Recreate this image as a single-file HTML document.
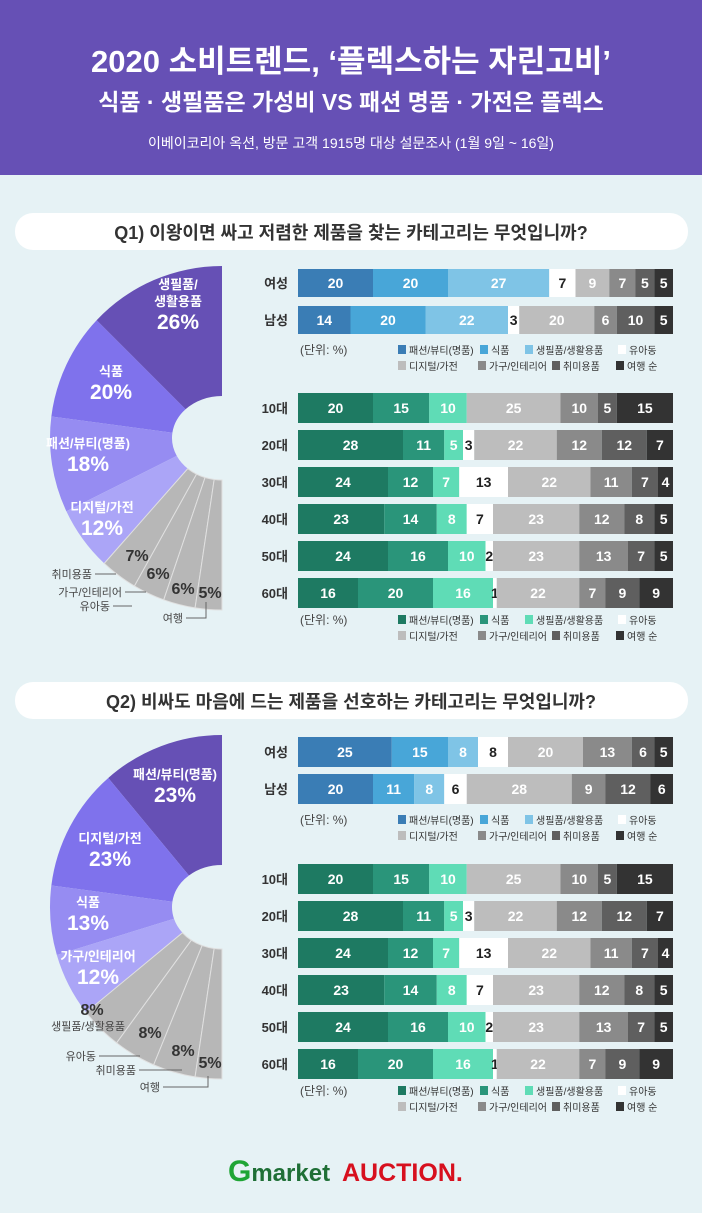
<!DOCTYPE html>
<html><head><meta charset="utf-8">
<style>
html,body{margin:0;padding:0;background:#e6f2f5;}
body{width:702px;height:1208px;overflow:hidden;font-family:"Liberation Sans","Noto Sans CJK KR",sans-serif;}
svg text{font-family:"Liberation Sans","Noto Sans CJK KR",sans-serif;}
</style></head>
<body>
<svg id="page" width="702" height="1208" viewBox="0 0 702 1208" xmlns="http://www.w3.org/2000/svg">
<rect x="0" y="0" width="702" height="1208" fill="#e6f2f5"/>
<g>
<rect x="0" y="0" width="702" height="175" fill="#6650b5"/>
<text x="351" y="72" text-anchor="middle" fill="#fff" font-size="31" font-weight="bold">2020 소비트렌드, ‘플렉스하는 자린고비’</text>
<text x="351" y="110" text-anchor="middle" fill="#fff" font-size="23" font-weight="bold">식품 · 생필품은 가성비 VS 패션 명품 · 가전은 플렉스</text>
<text x="351" y="148" text-anchor="middle" fill="#fff" font-size="14">이베이코리아 옥션, 방문 고객 1915명 대상 설문조사 (1월 9일 ~ 16일)</text>
</g>
<g>
<rect x="15" y="213" width="673" height="37" rx="18" fill="#fff"/>
<text x="351" y="239" text-anchor="middle" fill="#333" font-size="18" font-weight="bold">Q1) 이왕이면 싸고 저렴한 제품을 찾는 카테고리는 무엇입니까?</text>
</g>
<g>
<rect x="15" y="682" width="673" height="37" rx="18" fill="#fff"/>
<text x="351" y="708" text-anchor="middle" fill="#333" font-size="18" font-weight="bold">Q2) 비싸도 마음에 드는 제품을 선호하는 카테고리는 무엇입니까?</text>
</g>
<g id="charts"></g>
<g>
<text x="228" y="1181" fill="#1fa535" font-size="30" font-weight="bold">G<tspan fill="#1f6f36" font-size="24">market</tspan></text>
<text x="342" y="1181" fill="#d7101e" font-size="25" font-weight="bold">AUCTION.</text>
</g>
</svg>
<script>
// ---- data ----
const q1PieCats = ['생필품/생활용품','식품','패션/뷰티(명품)','디지털/가전','취미용품','가구/인테리어','유아동','여행'];
const q1PieVals = [26,20,18,12,7,6,6,5];
const q2PieCats = ['패션/뷰티(명품)','디지털/가전','식품','가구/인테리어','생필품/생활용품','유아동','취미용품','여행'];
const q2PieVals = [23,23,13,12,8,8,8,5];
const genderRows = ['여성','남성'];
const ageRows = ['10대','20대','30대','40대','50대','60대'];
const q1Gender = [[20,20,27,7,9,7,5,5],[14,20,22,3,20,6,10,5]];
const q2Gender = [[25,15,8,8,20,13,6,5],[20,11,8,6,28,9,12,6]];
const q1Age = [[20,15,10,0,25,10,5,15],[28,11,5,3,22,12,12,7],[24,12,7,13,22,11,7,4],[23,14,8,7,23,12,8,5],[24,16,10,2,23,13,7,5],[16,20,16,1,22,7,9,9]];
const q2Age = [[20,15,10,0,25,10,5,15],[28,11,5,3,22,12,12,7],[24,12,7,13,22,11,7,4],[23,14,8,7,23,12,8,5],[24,16,10,2,23,13,7,5],[16,20,16,1,22,7,9,9]];
const legendCats = ['패션/뷰티(명품)','식품','생필품/생활용품','유아동','디지털/가전','가구/인테리어','취미용품','여행 순'];

const NS='http://www.w3.org/2000/svg';
const root=document.getElementById('charts');
function mk(tag,attrs,parent){const e=document.createElementNS(NS,tag);for(const k in attrs)e.setAttribute(k,attrs[k]);(parent||root).appendChild(e);return e;}
function txt(x,y,s,size,fill,anchor,weight,parent){const t=mk('text',{x:x,y:y,'font-size':size,fill:fill,'text-anchor':anchor||'middle','font-weight':weight||'bold'},parent);t.textContent=s;return t;}

const blueCols=['#3a7db5','#48a6d8','#7fc4e6','#ffffff','#bdbdbd','#8a8a8a','#5f5f5f','#333333'];
const greenCols=['#1e7a62','#2a957a','#5fdcb6','#ffffff','#bdbdbd','#8a8a8a','#5f5f5f','#333333'];

const X0=298,X1=673;
function xScale(v,total){return (v/total)*(X1-X0);}
function barRow(vals,label,y,h,cols,g){
  txt(X0-10,y+h/2+5,label,13,'#333','end','bold',g);
  const total=vals.reduce((a,b)=>a+b,0);
  let x=X0;
  vals.forEach((v,i)=>{
    if(v<=0)return;
    const w=xScale(v,total);
    const r=mk('rect',{x:x,y:y,width:w,height:h,fill:cols[i]},g);
    
    
    txt(x+w/2,y+h/2+5,String(v),14,i===3?'#222':'#fff','middle','bold',g);
    x+=w;
  });
}
function legend(y,cols,g){
  txt(300,y+4,'(단위: %)',12,'#444','start','normal',g);
  const row1x=[398,480,525,618], row2x=[398,478,552,616];
  for(let i=0;i<8;i++){
    const rx=i<4?row1x[i]:row2x[i-4], ry=i<4?y:y+16;
    const s=mk('rect',{x:rx,y:ry-5,width:8,height:9,fill:cols[i]},g);
    
    
    txt(rx+11,ry+4,legendCats[i],10,'#333','start','normal',g);
  }
}
function barBlock(data,rows,y0,step,h,cols,legY,name){
  const g=mk('g',{});
  
  
  data.forEach((vals,i)=>barRow(vals,rows[i],y0+i*step,h,cols,g));
  legend(legY,cols,g);
}
barBlock(q1Gender,genderRows,269,37,28,blueCols,350,'q1-gender-bars');
barBlock(q1Age,ageRows,393,37,30,greenCols,620,'q1-age-bars');
barBlock(q2Gender,genderRows,737,37,30,blueCols,820,'q2-gender-bars');
barBlock(q2Age,ageRows,864,37,30,greenCols,1091,'q2-age-bars');

// ---- half donut ----
function pt(cx,cy,rx,ry,th){return [cx-rx*Math.sin(th),cy-ry*Math.cos(th)];}
function pie(cats,vals,cy,cols,name,insideN,inPos,pctPos,outLabels){
  const g=mk('g',{});
  
  
  const cx=222,rx=172,ry=172,irx=50,iry=42;
  const total=vals.reduce((a,b)=>a+b,0);
  let a=0;
  vals.forEach((v,i)=>{
    const a0=a/total*Math.PI, a1=(a+v)/total*Math.PI; a+=v;
    const p0=pt(cx,cy,rx,ry,a0),p1=pt(cx,cy,rx,ry,a1),q1=pt(cx,cy,irx,iry,a1),q0=pt(cx,cy,irx,iry,a0);
    const d=`M${p0} A${rx},${ry} 0 0 0 ${p1} L${q1} A${irx},${iry} 0 0 1 ${q0} Z`;
    const s=mk('path',{d:d,fill:cols[i],stroke:i>=insideN?'#e0e0e0':'none','stroke-width':1},g);
    
    
    if(i<insideN){
      const p=inPos[i];
      const lines=p[2]?cats[i].split('/').map((s,k,arr)=>k<arr.length-1?s+'/':s):[cats[i]];
      lines.forEach((ln,k)=>txt(p[0],p[1]+k*17,ln,13,'#fff','middle','bold',g));
      txt(p[0],p[1]+lines.length*17+6,v+'%',21,'#fff','middle','bold',g);
    } else {
      const p=pctPos[i-insideN];
      txt(p[0],p[1],v+'%',16,'#333','middle','bold',g);
    }
  });
  outLabels.forEach((o,k)=>{
    const i=insideN+k;
    txt(o[0],o[1],cats[i],11,'#444','end','normal',g);
    if(o[2])mk('polyline',{points:o[2],fill:'none',stroke:'#666','stroke-width':1},g);
  });
}
const pieCols=['#6650b5','#7f72ec','#968cf2','#aba5f7','#b7b7b7','#b7b7b7','#b7b7b7','#b7b7b7'];
pie(q1PieCats,q1PieVals,438,pieCols,'q1-pie',4,
 [[178,289,true],[111,376,false],[88,448,false],[102,512,false]],
 [[137,561],[158,579],[183,594],[210,598]],
 [[92,578,'95,574 116,574'],[122,596,'125,592 146,592'],[110,610,'113,606 132,606'],[183,622,'186,618 206,618 206,602']]);
pie(q2PieCats,q2PieVals,907,pieCols,'q2-pie',4,
 [[175,779,false],[110,843,false],[88,907,false],[98,961,false]],
 [[92,1015],[150,1038],[183,1056],[210,1068]],
 [[125,1030,''],[96,1060,'99,1056 140,1056'],[136,1074,'139,1070 182,1070'],[160,1091,'163,1087 208,1087 208,1076']]);
</script>
</body></html>
